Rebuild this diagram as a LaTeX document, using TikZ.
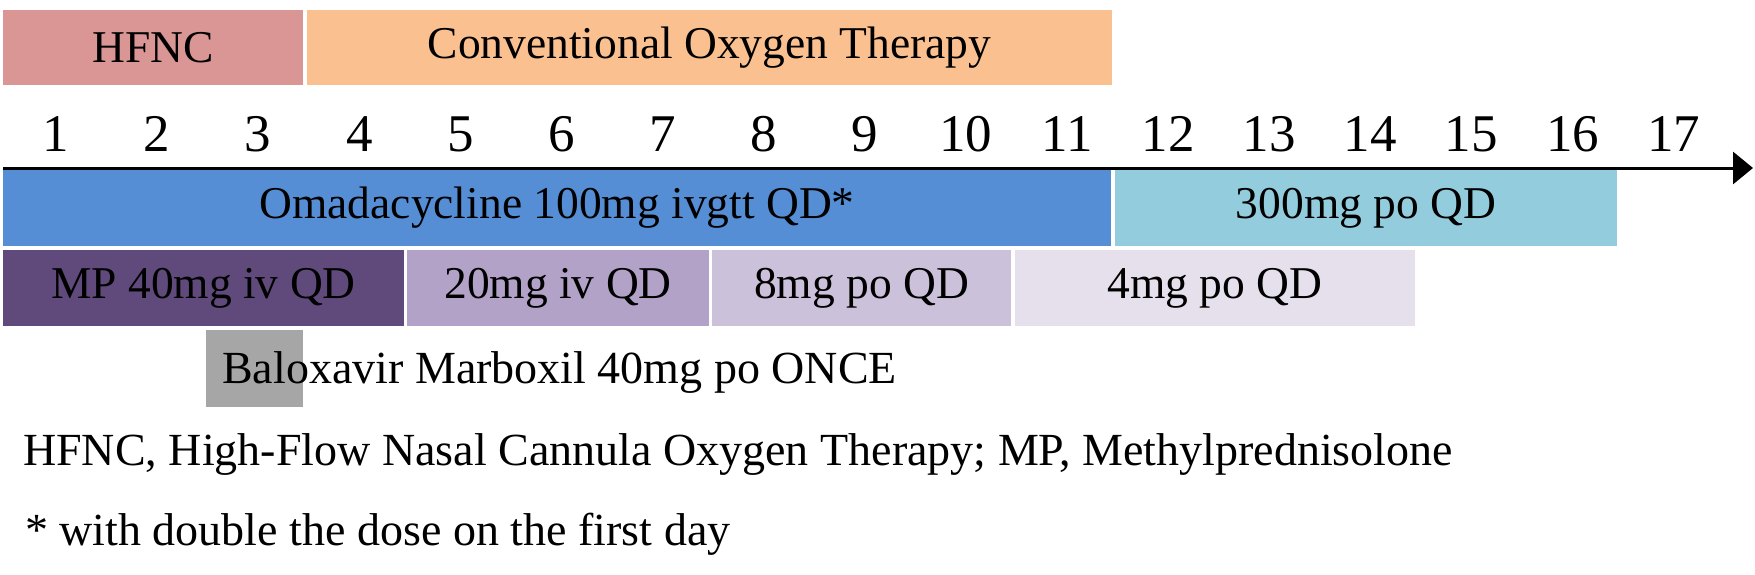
\documentclass[tikz,border=0pt]{standalone}
\usepackage{fontspec}
\setmainfont{Liberation Serif}
\usetikzlibrary{arrows.meta}
\definecolor{chfnc}{RGB}{217,150,148}
\definecolor{cconv}{RGB}{250,192,144}
\definecolor{comada}{RGB}{85,142,213}
\definecolor{cpo}{RGB}{147,205,221}
\definecolor{cmpa}{RGB}{96,74,123}
\definecolor{cmpb}{RGB}{179,162,199}
\definecolor{cmpc}{RGB}{204,193,218}
\definecolor{cmpd}{RGB}{230,224,236}
\definecolor{cgray}{RGB}{166,166,166}
\tikzset{
  barbox/.style={anchor=north west, inner sep=0pt, outer sep=0pt, draw=none,
    font=\fontsize{45.5}{54}\selectfont, text=black},
  daynum/.style={anchor=base, inner sep=0pt, font=\fontsize{53}{60}\selectfont},
  note/.style={anchor=base west, inner sep=0pt, font=\fontsize{46}{54}\selectfont},
}
\begin{document}
\begin{tikzpicture}[x=1pt,y=-1pt]
\useasboundingbox (0,0) rectangle (1755,575);
% top row
\node[barbox, fill=chfnc, minimum width=300pt, minimum height=75pt] (hfnc) at (3,10) {HFNC};
\node[barbox, fill=cconv, minimum width=805pt, minimum height=75pt] (conv) at (307,10) {Conventional Oxygen Therapy};
% day numbers
\foreach \i in {1,...,17} {
  \node[daynum] (d\i) at ({56+(\i-1)*101.1},151) {\i};
}
% axis
\coordinate (axs) at (3,168);
\coordinate (axe) at (1753,168);
\draw[line width=3pt, -{Triangle[length=20pt,width=32pt]}] (axs) -- (axe);
% omadacycline row
\node[barbox, fill=comada, minimum width=1108pt, minimum height=76pt] (omada) at (3,170) {Omadacycline 100mg ivgtt QD*};
\node[barbox, fill=cpo, minimum width=502pt, minimum height=76pt] (po) at (1115,170) {300mg po QD};
% MP row
\node[barbox, fill=cmpa, minimum width=401pt, minimum height=76pt] (mpa) at (3,250) {MP 40mg iv QD};
\node[barbox, fill=cmpb, minimum width=302pt, minimum height=76pt] (mpb) at (407,250) {20mg iv QD};
\node[barbox, fill=cmpc, minimum width=299pt, minimum height=76pt] (mpc) at (712,250) {8mg po QD};
\node[barbox, fill=cmpd, minimum width=400pt, minimum height=76pt] (mpd) at (1015,250) {4mg po QD};
% baloxavir
\node[barbox, fill=cgray, minimum width=97pt, minimum height=77pt] (balbox) at (206,330) {};
\node[note] (bal) at (222,383) {Baloxavir Marboxil 40mg po ONCE};
% footnotes
\node[note] (fn1) at (23,465) {HFNC, High-Flow Nasal Cannula Oxygen Therapy; MP, Methylprednisolone};
\node[note] (fn2) at (25,545) {* with double the dose on the first day};
\end{tikzpicture}
\end{document}
